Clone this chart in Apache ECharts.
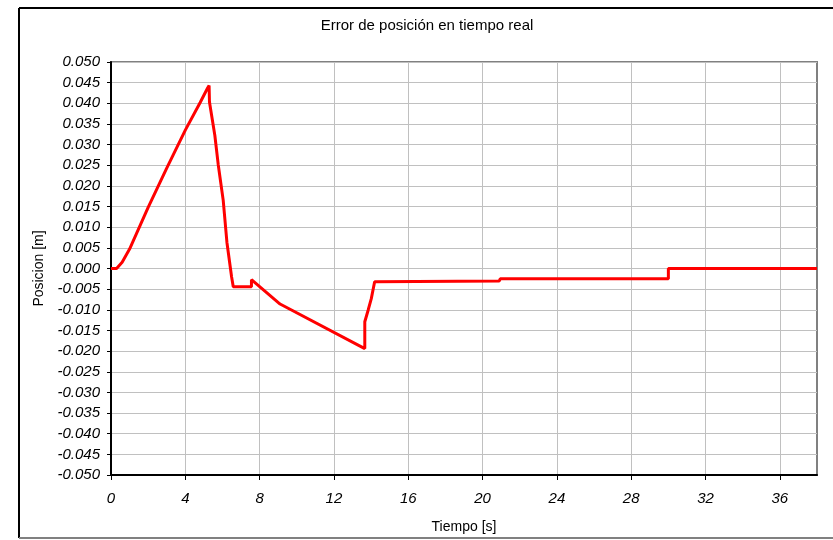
<!DOCTYPE html>
<html>
<head>
<meta charset="utf-8">
<script src="https://cdn.jsdelivr.net/npm/echarts@6/dist/echarts.min.js"></script>
<style>
html,body{margin:0;padding:0;background:#fff;}
#chart{width:833px;height:540px;}
</style>
</head>
<body>
<div id="chart"></div>
<script>
// Data
const timeS = [0, 0.3, 0.6, 1.0, 2.0, 3.0, 4.0, 4.8, 5.2, 5.28, 5.3, 5.59, 5.77, 6.04, 6.24, 6.49, 6.58, 7.56, 7.56, 9.1, 13.66, 13.66, 13.84, 14.01, 14.19, 14.28, 20.9, 20.95, 30.0, 30.0, 38];
const posM  = [0, 0, 0.0015, 0.0047, 0.0148, 0.0243, 0.0335, 0.0402, 0.0437, 0.0443, 0.0403, 0.0322, 0.0252, 0.0165, 0.0063, -0.002, -0.0044, -0.0044, -0.0027, -0.0086, -0.0194, -0.0129, -0.0101, -0.0073, -0.0032, -0.0031, -0.003, -0.0025, -0.0025, 0.0, 0.0];
const xTickLabels = [0, 4, 8, 12, 16, 20, 24, 28, 32, 36];

const titleText = 'Error de posición en tiempo real';
const xName = 'Tiempo [s]';
const yName = 'Posicion [m]';

const FONT = '"Liberation Sans", Arial, sans-serif';
const chart = echarts.init(document.getElementById('chart'), null, {renderer: 'canvas'});
const seriesData = timeS.map((t, i) => [t, posM[i]]);

chart.setOption({
  animation: false,
  backgroundColor: '#ffffff',
  title: {
    text: titleText,
    left: 422,
    top: 13,
    textAlign: 'center',
    textStyle: {fontFamily: FONT, fontSize: 15, fontWeight: 'normal', color: '#000'}
  },
  graphic: [
    {type: 'line', shape: {x1: 19, y1: 8, x2: 833, y2: 8}, style: {stroke: '#000', lineWidth: 2}},
    {type: 'line', shape: {x1: 19, y1: 8, x2: 19, y2: 538}, style: {stroke: '#000', lineWidth: 2}},
    {type: 'line', shape: {x1: 19, y1: 538, x2: 833, y2: 538}, style: {stroke: '#808080', lineWidth: 2}}
  ],
  grid: {
    left: 111, top: 62, right: 16, bottom: 65,
    show: true, borderColor: '#808080', borderWidth: 2, backgroundColor: '#fff'
  },
  xAxis: {
    type: 'value',
    min: 0, max: 38, interval: 4,
    name: xName, nameLocation: 'middle', nameGap: 45,
    nameTextStyle: {fontFamily: FONT, fontSize: 14, color: '#000'},
    axisLine: {show: true, onZero: false, lineStyle: {color: '#000', width: 2}},
    axisTick: {show: true, length: 5, lineStyle: {color: '#000', width: 1}, customValues: xTickLabels},
    axisLabel: {
      fontFamily: FONT, fontSize: 15, fontStyle: 'italic', color: '#000', margin: 16,
      customValues: xTickLabels
    },
    splitLine: {show: true, lineStyle: {color: '#c0c0c0', width: 1}}
  },
  yAxis: {
    type: 'value',
    min: -0.05, max: 0.05, interval: 0.005,
    name: yName, nameLocation: 'middle', nameGap: 62, nameRotate: 90,
    nameTextStyle: {fontFamily: FONT, fontSize: 14, color: '#000'},
    axisLine: {show: true, onZero: false, lineStyle: {color: '#000', width: 2}},
    axisTick: {show: true, inside: false, length: 4, lineStyle: {color: '#000', width: 1}},
    axisLabel: {
      fontFamily: FONT, fontSize: 15, fontStyle: 'italic', color: '#000', margin: 11,
      formatter: v => v.toFixed(3)
    },
    splitLine: {show: true, lineStyle: {color: '#c0c0c0', width: 1}}
  },
  series: [{
    type: 'line',
    data: seriesData,
    showSymbol: false,
    symbol: 'none',
    lineStyle: {color: '#ff0000', width: 3},
    itemStyle: {color: '#ff0000'}
  }]
});
</script>
</body>
</html>
